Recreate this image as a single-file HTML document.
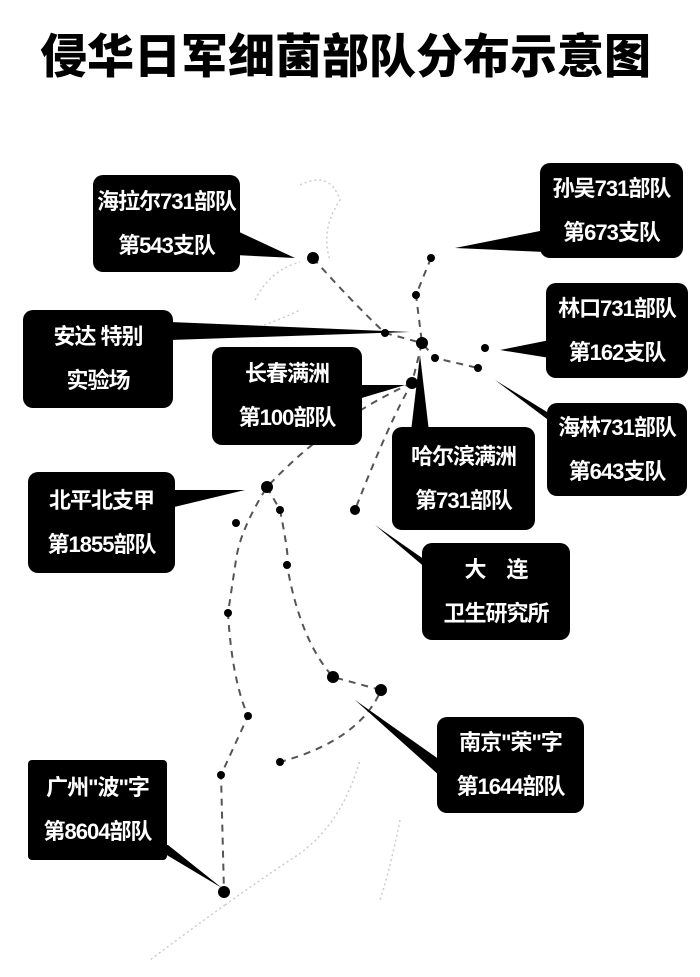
<!DOCTYPE html>
<html><head><meta charset="utf-8"><style>
body{margin:0;background:#fff;}
.w{position:relative;width:700px;height:977px;overflow:hidden;background:#fff;font-family:"Liberation Sans","Noto Sans CJK SC",sans-serif;}
.t{position:absolute;left:40px;top:18px;width:620px;font-size:47px;font-weight:900;color:#000;white-space:nowrap;font-family:"Noto Sans CJK SC","WenQuanYi Zen Hei",sans-serif;}
.b{position:absolute;background:#000;color:#fff;border-radius:10px;font-weight:700;font-size:22px;line-height:44px;text-align:center;white-space:nowrap;font-family:"Liberation Sans Narrow","Liberation Sans","Noto Sans CJK SC",sans-serif;display:flex;flex-direction:column;justify-content:center;letter-spacing:-1px;}
svg{position:absolute;left:0;top:0;}
</style></head><body><div class="w">
<div class="t">侵华日军细菌部队分布示意图</div>
<svg width="700" height="977">
<g fill="none" stroke="#ccc" stroke-width="1.5" stroke-dasharray="2 3">
<path d="M300 185 Q330 170 340 200 Q320 230 330 260 M255 300 Q270 270 300 262 M250 330 Q280 320 300 310"/>
<path d="M225 905 Q260 880 290 860 Q340 830 360 760 M225 905 Q190 930 150 960 M400 820 Q390 870 380 900"/>
</g>
<g fill="none" stroke="#555" stroke-width="2" stroke-dasharray="7 6">
<path d="M313 258 Q350 300 385 333 L422 343 L412 383 Q390 420 355 510"/>
<path d="M431 258 L416 295 L422 343 L435 358 L478 368"/>
<path d="M412 383 Q330 420 267 487 Q240 530 236 560 L228 613 Q232 680 248 716 L221 775 L224 892"/>
<path d="M267 487 L280 510 Q290 560 287 565 Q300 640 333 677 L381 690 Q360 740 280 762"/>
<path d="M438 437 Q420 445 405 450"/>
</g>
<g fill="#000">
<circle cx="313" cy="258" r="6"/><circle cx="431" cy="258" r="4"/><circle cx="416" cy="295" r="4"/>
<circle cx="385" cy="333" r="4"/><circle cx="422" cy="343" r="6"/><circle cx="435" cy="358" r="4"/>
<circle cx="485" cy="348" r="4"/><circle cx="478" cy="368" r="4"/><circle cx="412" cy="383" r="6"/>
<circle cx="438" cy="437" r="4"/><circle cx="355" cy="510" r="5"/><circle cx="267" cy="487" r="6"/>
<circle cx="280" cy="510" r="4"/><circle cx="236" cy="523" r="4"/><circle cx="287" cy="565" r="4"/>
<circle cx="228" cy="613" r="4"/><circle cx="333" cy="677" r="6"/><circle cx="381" cy="690" r="6"/>
<circle cx="248" cy="716" r="4"/><circle cx="221" cy="775" r="4"/><circle cx="280" cy="762" r="4"/>
<circle cx="224" cy="892" r="6"/>
<polygon points="235,230 235,255 295,258"/>
<polygon points="545,230 545,252 455,248"/>
<polygon points="550,340 550,358 500,350"/>
<polygon points="560,420 575,440 495,380"/>
<polygon points="170,322 170,340 410,332"/>
<polygon points="355,385 355,400 405,385"/>
<polygon points="410,440 430,440 420,355"/>
<polygon points="425,560 440,580 375,525"/>
<polygon points="170,490 170,508 245,490"/>
<polygon points="440,760 450,785 355,700"/>
<polygon points="150,845 168,845 222,888"/>
</g>
</svg>
<div class="b" style="left:93px;top:175px;width:147px;height:97px">海拉尔731部队<br>第543支队</div>
<div class="b" style="left:540px;top:163px;width:143px;height:95px">孙吴731部队<br>第673支队</div>
<div class="b" style="left:546px;top:283px;width:142px;height:95px">林口731部队<br>第162支队</div>
<div class="b" style="left:547px;top:403px;width:140px;height:93px">海林731部队<br>第643支队</div>
<div class="b" style="left:392px;top:427px;width:143px;height:103px">哈尔滨满洲<br>第731部队</div>
<div class="b" style="left:422px;top:543px;width:148px;height:97px">大　连<br>卫生研究所</div>
<div class="b" style="left:23px;top:310px;width:150px;height:98px">安达 特别<br>实验场</div>
<div class="b" style="left:212px;top:347px;width:150px;height:98px">长春满洲<br>第100部队</div>
<div class="b" style="left:28px;top:472px;width:147px;height:101px">北平北支甲<br>第1855部队</div>
<div class="b" style="left:437px;top:717px;width:147px;height:96px">南京"荣"字<br>第1644部队</div>
<div class="b" style="left:28px;top:760px;width:139px;height:100px;border-radius:4px">广州"波"字<br>第8604部队</div>
</div></body></html>
